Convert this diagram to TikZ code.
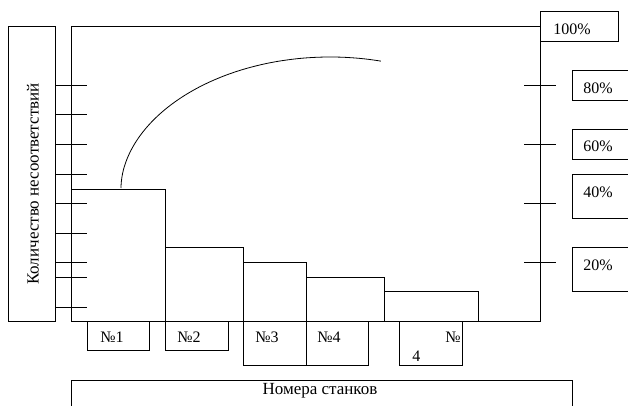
\documentclass[tikz,border=0pt]{standalone}
\usepackage{fontspec}
\setmainfont{Liberation Serif}
\begin{document}
\begin{tikzpicture}[x=1pt,y=-1pt,line width=0.9pt,
  box/.style={draw, inner sep=0pt, outer sep=0pt, anchor=north west},
  txt/.style={inner sep=0pt, anchor=west, font=\fontsize{16}{19}\selectfont},
  caption/.style={inner sep=0pt, font=\fontsize{17}{20}\selectfont}]
\useasboundingbox (0,0) rectangle (628,406);

% axis captions
\node[box, minimum width=47, minimum height=295] (ylab) at (8,26) {};
\node[caption, rotate=90] (ytxt) at (33,184) {Количество несоответствий};
\node[box, minimum width=501, minimum height=40] (xlab) at (71,380) {};
\node[caption] (xtxt) at (320,391) {Номера станков};

% plotting area
\node[box, minimum width=469, minimum height=295] (plot) at (71,26) {};

% bars
\node[box, minimum width=94, minimum height=132] (bar1) at (71,189) {};
\node[box, minimum width=78, minimum height=74] (bar2) at (165,247) {};
\node[box, minimum width=63, minimum height=59] (bar3) at (243,262) {};
\node[box, minimum width=78, minimum height=44] (bar4) at (306,277) {};
\node[box, minimum width=94, minimum height=30] (bar5) at (384,291) {};

% ticks on the left and right scales
\foreach \y in {85,114,144,174,203,233,262,277,307}
  \draw (55,\y) -- (87,\y);
\foreach \y in {85,144,203,262}
  \draw (524,\y) -- (556,\y);

% cumulative curve
\draw[line width=0.8pt] plot[domain=180:75.9, samples=60, smooth]
  ({330+209*cos(\x)}, {188-131*sin(\x)^1.05});

% percentage boxes
\node[box, minimum width=78, minimum height=30] (p100) at (540,11) {};
\node[box, minimum width=60, minimum height=30] (p80) at (572,70) {};
\node[box, minimum width=60, minimum height=30] (p60) at (572,129) {};
\node[box, minimum width=60, minimum height=44] (p40) at (572,174) {};
\node[box, minimum width=60, minimum height=44] (p20) at (572,247) {};
\node[txt] (t100) at (553,29) {100\%};
\node[txt] (t80) at (583,88) {80\%};
\node[txt] (t60) at (583,146) {60\%};
\node[txt] (t40) at (583,192) {40\%};
\node[txt] (t20) at (583,265) {20\%};

% machine number boxes
\node[box, minimum width=62, minimum height=29] (m1) at (87,321) {};
\node[box, minimum width=63, minimum height=29] (m2) at (165,321) {};
\node[box, minimum width=63, minimum height=44] (m3) at (243,321) {};
\node[box, minimum width=62, minimum height=44] (m4) at (306,321) {};
\node[box, minimum width=63, minimum height=44] (m5) at (399,321) {};
\node[txt] (n1) at (100,337) {№1};
\node[txt] (n2) at (177,337) {№2};
\node[txt] (n3) at (255,337) {№3};
\node[txt] (n4) at (317,337) {№4};
\node[txt] (n5a) at (445,337) {№};
\node[txt] (n5b) at (412,356) {4};
\end{tikzpicture}
\end{document}
